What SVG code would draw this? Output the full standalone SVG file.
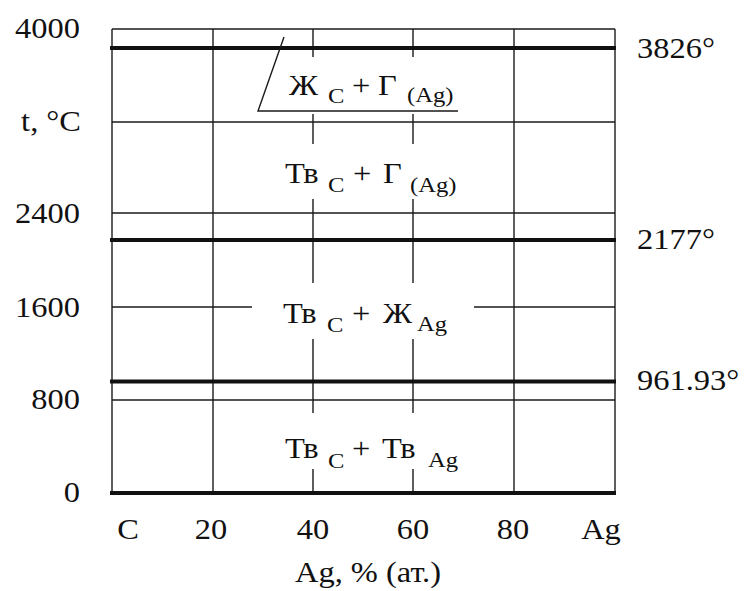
<svg xmlns="http://www.w3.org/2000/svg" width="747" height="591" viewBox="0 0 747 591">
<style>
text{font-family:"Liberation Serif","Times New Roman",serif;fill:#111;font-size:29px}
.sub{font-size:22px}
.thin{stroke:#1a1a1a;stroke-width:1.4;fill:none}
.thick{stroke:#111;stroke-width:4;fill:none}
</style>
<rect width="747" height="591" fill="#fff"/>
<g id="connectors">
<g id="grid">
<line class="thin" x1="112" y1="29" x2="615" y2="29"/>
<line class="thin" x1="112" y1="122" x2="615" y2="122"/>
<line class="thin" x1="112" y1="213" x2="615" y2="213"/>
<line class="thin" x1="112" y1="307" x2="252" y2="307"/>
<line class="thin" x1="474" y1="307" x2="615" y2="307"/>
<line class="thin" x1="112" y1="400" x2="615" y2="400"/>
<line class="thin" x1="112" y1="29" x2="112" y2="493"/>
<line class="thin" x1="213" y1="29" x2="213" y2="493"/>
<line class="thin" x1="514" y1="29" x2="514" y2="493"/>
<line class="thin" x1="615" y1="29" x2="615" y2="493"/>
<path class="thin" d="M313 29V57M313 114V144M313 199V283M313 339V413M313 469V493"/>
<path class="thin" d="M413 29V57M413 114V144M413 199V283M413 339V413M413 469V493"/>
</g>
<g id="phase-lines">
<line class="thick" x1="110" y1="48" x2="616" y2="48"/>
<line class="thick" x1="110" y1="240" x2="616" y2="240"/>
<line class="thick" x1="110" y1="381.5" x2="616" y2="381.5"/>
<line class="thick" x1="110" y1="493" x2="616" y2="493"/>
<path class="thin" d="M284 37L258 111H458"/>
</g>
</g>
<g id="y-axis">
<text transform="translate(80,38) scale(1.12,1)" text-anchor="end">4000</text>
<text transform="translate(81,131) scale(1.12,1)" text-anchor="end">t, °C</text>
<text transform="translate(80,223) scale(1.12,1)" text-anchor="end">2400</text>
<text transform="translate(80,317) scale(1.12,1)" text-anchor="end">1600</text>
<text transform="translate(80,409) scale(1.12,1)" text-anchor="end">800</text>
<text transform="translate(80,502) scale(1.12,1)" text-anchor="end">0</text>
</g>
<g id="temps">
<text transform="translate(637,58) scale(1.12,1)">3826°</text>
<text transform="translate(637,249) scale(1.12,1)">2177°</text>
<text transform="translate(637,390) scale(1.12,1)">961.93°</text>
</g>
<g id="x-axis">
<text transform="translate(128,539) scale(1.12,1)" text-anchor="middle">C</text>
<text transform="translate(211,539) scale(1.12,1)" text-anchor="middle">20</text>
<text transform="translate(313,539) scale(1.12,1)" text-anchor="middle">40</text>
<text transform="translate(413,539) scale(1.12,1)" text-anchor="middle">60</text>
<text transform="translate(513,539) scale(1.12,1)" text-anchor="middle">80</text>
<text transform="translate(601,539) scale(1.12,1)" text-anchor="middle">Ag</text>
<text transform="translate(368,582) scale(1.12,1)" text-anchor="middle">Ag, % (ат.)</text>
</g>
<g id="region-liquid-gas">
<text transform="translate(289,95) scale(1.12,1)"><tspan>Ж</tspan> <tspan class="sub" x="34.8" dy="8">C</tspan> <tspan x="56.3" dy="-8">+</tspan> <tspan x="79.5">Г</tspan> <tspan class="sub" x="105.4" dy="7">(Ag)</tspan></text>
</g>
<g id="region-solid-gas">
<text transform="translate(285,183) scale(1.12,1)"><tspan>Тв</tspan> <tspan class="sub" x="38.4" dy="9">C</tspan> <tspan x="60.7" dy="-9">+</tspan> <tspan x="87.5">Г</tspan> <tspan class="sub" x="111.6" dy="9">(Ag)</tspan></text>
</g>
<g id="region-solid-liquid">
<text transform="translate(283,323) scale(1.12,1)"><tspan>Тв</tspan> <tspan class="sub" x="39.3" dy="9">C</tspan> <tspan x="61.6" dy="-9">+</tspan> <tspan x="89.3">Ж</tspan> <tspan class="sub" x="119.6" dy="8">Ag</tspan></text>
</g>
<g id="region-solid-solid">
<text transform="translate(285,458) scale(1.12,1)"><tspan>Тв</tspan> <tspan class="sub" x="38.4" dy="10">C</tspan> <tspan x="59.8" dy="-10">+</tspan> <tspan x="86.6">Тв</tspan> <tspan class="sub" x="127.7" dy="9">Ag</tspan></text>
</g>
</svg>
